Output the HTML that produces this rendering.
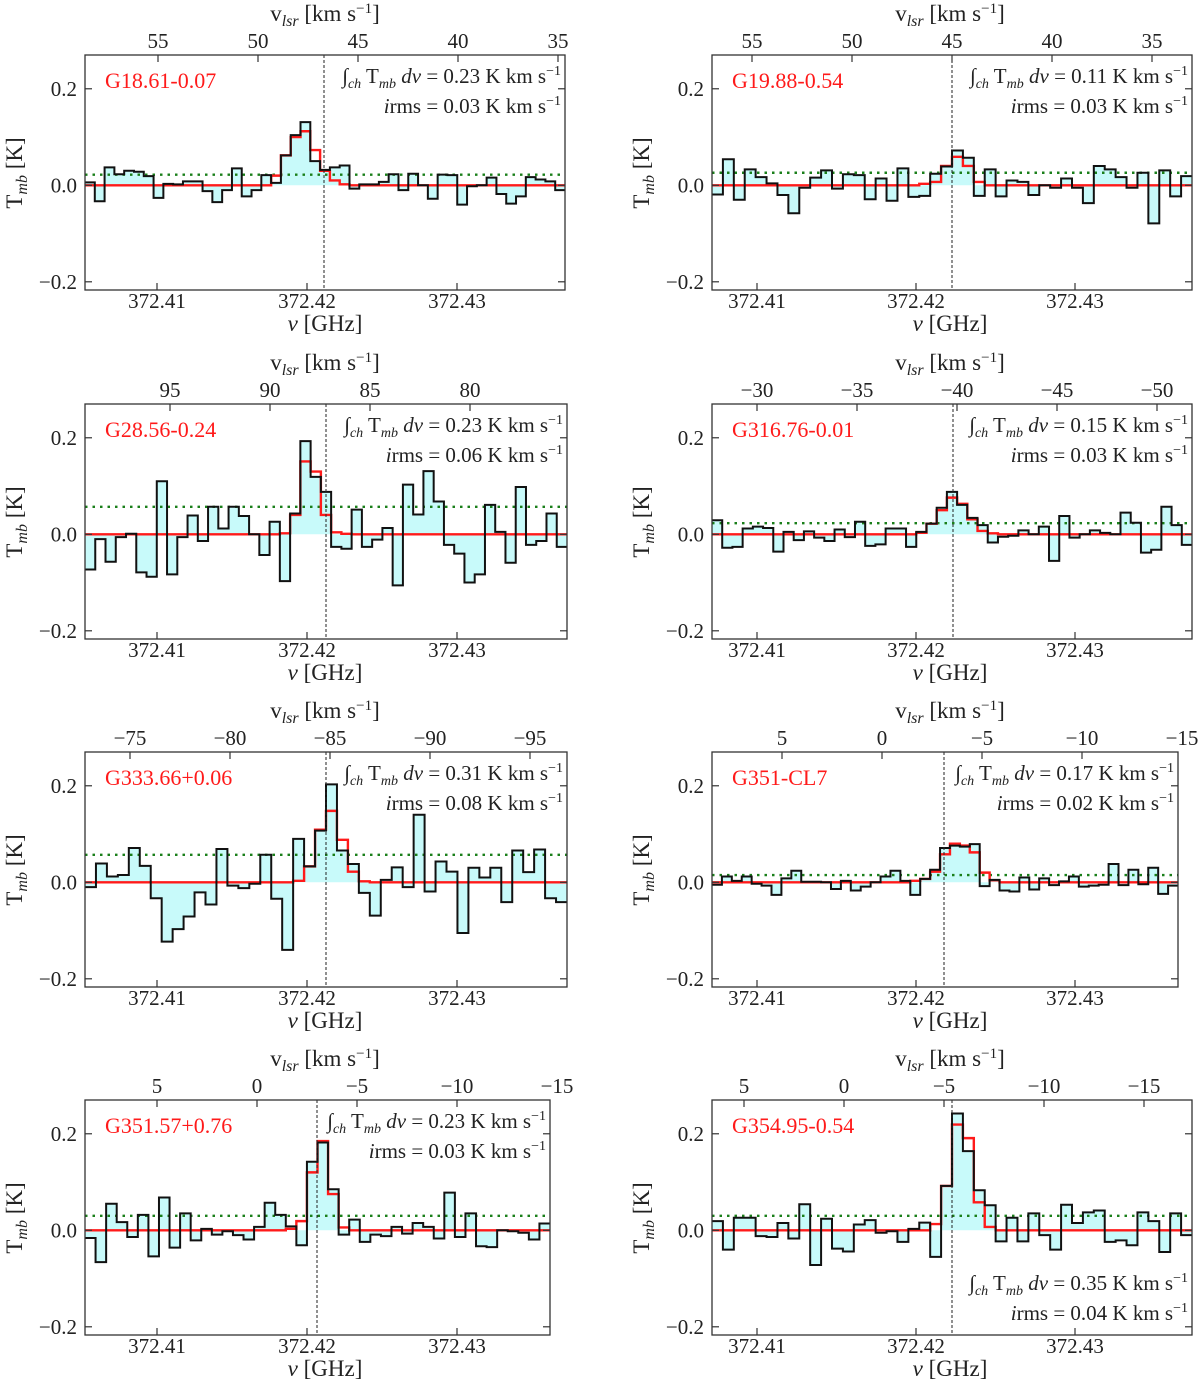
<!DOCTYPE html>
<html><head><meta charset="utf-8"><title>Spectra</title>
<style>
html,body{margin:0;padding:0;background:#fff;}
svg text{font-family:"Liberation Serif","DejaVu Serif",serif;fill:#222;}
</style></head>
<body>
<svg id="fig" width="1200" height="1388" viewBox="0 0 1200 1388" xmlns="http://www.w3.org/2000/svg" font-family="Liberation Serif, serif">
</svg>
<script>
// ---------- data ----------
const yTicks = [-0.2, 0.0, 0.2];
const yTickLabels = ["\u22120.2", "0.0", "0.2"];
const freqTicks = [372.41, 372.42, 372.43];
const freqTickLabels = ["372.41", "372.42", "372.43"];

const p1Obs = [0.006,-0.033,0.037,0.023,0.03,0.028,0.019,-0.026,0.003,0.002,0.008,0.008,-0.012,-0.035,-0.01,0.035,-0.023,-0.01,0.021,0.005,0.062,0.104,0.131,0.05,0.032,0.037,0.041,-0.007,0.002,0.002,0.007,0.023,-0.01,0.024,0,-0.028,0.022,0.021,-0.04,-0.002,0,0.016,-0.018,-0.038,-0.023,0.017,0.012,0.008,-0.01];
const p1Fit = [0.02,0.062,0.1,0.112,0.073,0.03,0.01,0.002];
const p1FitStart = 19;
const p1Rms = 0.022;
const p1VelTicks = [55,50,45,40,35];

const p2Obs = [-0.019,0.054,-0.03,0.033,0.017,0.004,-0.02,-0.058,-0.005,0.016,0.031,-0.007,0.023,0.021,-0.029,0.014,-0.032,0.035,-0.024,-0.022,0.024,0.039,0.072,0.057,-0.022,0.033,-0.023,0.01,0.007,-0.02,0,-0.005,0.014,-0.005,-0.037,0.04,0.033,0.017,-0.005,0.026,-0.079,0.031,-0.023,0.019];
const p2Fit = [0.003,0.007,0.04,0.059,0.04,0.007];
const p2FitStart = 19;
const p2Rms = 0.026;
const p2VelTicks = [55,50,45,40,35];

const p3Obs = [-0.073,-0.01,-0.057,-0.006,0.001,-0.079,-0.088,0.11,-0.083,-0.006,0.039,-0.014,0.057,0.012,0.057,0.038,0,-0.043,0.026,-0.097,0.043,0.193,0.119,0.088,-0.026,-0.03,0.051,-0.026,-0.011,0.013,-0.106,0.103,0.041,0.131,0.068,-0.022,-0.04,-0.1,-0.083,0.061,0.005,-0.059,0.098,-0.022,-0.014,0.043,-0.026];
const p3Fit = [0.002,0.04,0.151,0.13,0.04,0.004,0.001];
const p3FitStart = 19;
const p3Rms = 0.057;
const p3VelTicks = [95,90,85,80];

const p4Obs = [0.029,-0.028,-0.026,0.012,0.016,0.013,-0.036,0.005,-0.012,0.006,-0.007,-0.014,0.01,-0.006,0.026,-0.024,-0.021,0.012,0.012,-0.026,0.005,0.022,0.055,0.088,0.061,0.034,0.019,-0.017,-0.005,-0.003,0.008,0,0.016,-0.055,0.038,-0.007,0,0.008,0.003,0,0.045,0.024,-0.038,-0.032,0.057,0.019,-0.022];
const p4Fit = [0.003,0.022,0.05,0.076,0.063,0.031,0.007,0.002];
const p4FitStart = 20;
const p4Rms = 0.023;
const p4VelTicks = [-30,-35,-40,-45,-50];

const p5Obs = [-0.01,0.039,0.012,0.015,0.071,0.034,-0.033,-0.123,-0.097,-0.071,-0.021,-0.046,0.069,-0.007,-0.012,-0.003,0.057,-0.034,-0.14,0.09,0.033,0.107,0.203,0.066,0.038,-0.022,-0.069,0.005,0.031,-0.01,0.14,-0.019,0.043,0.022,-0.105,0.03,0.01,0.03,-0.041,0.066,0.021,0.068,-0.033,-0.041];
const p5Fit = [0.003,0.033,0.109,0.148,0.088,0.022,0.002];
const p5FitStart = 19;
const p5Rms = 0.057;
const p5VelTicks = [-75,-80,-85,-90,-95];

const p6Obs = [-0.005,0.012,0.003,0.012,-0.003,-0.007,-0.026,0.008,0.024,0.001,0.001,0,-0.014,0.003,-0.017,-0.009,0,0.012,0.024,0.003,-0.026,0.007,0.026,0.071,0.076,0.074,0.079,-0.008,0.005,-0.017,-0.019,0.01,-0.015,0.008,-0.006,0.002,0.012,-0.009,-0.007,-0.005,0.038,-0.006,0.026,-0.004,0.03,-0.024,-0.007];
const p6Fit = [0.003,0.007,0.022,0.058,0.08,0.076,0.062,0.02,0.004];
const p6FitStart = 20;
const p6Rms = 0.015;
const p6VelTicks = [5,0,-5,-10,-15];

const p7Obs = [-0.016,-0.066,0.055,0.017,-0.014,0.032,-0.054,0.068,-0.036,0.035,-0.021,0.003,-0.009,-0.002,-0.01,-0.019,0.007,0.057,0.032,0.008,-0.031,0.142,0.182,0.085,-0.009,0.022,-0.024,-0.009,-0.012,0.007,-0.007,0.015,0.007,-0.017,0.078,-0.014,0.035,-0.033,-0.035,0,-0.002,-0.005,-0.019,0.014];
const p7Fit = [0.003,0.019,0.12,0.185,0.075,0.006];
const p7FitStart = 19;
const p7Rms = 0.03;
const p7VelTicks = [5,0,-5,-10,-15];

const p8Obs = [0.019,-0.04,0.026,0.026,-0.012,-0.014,0.015,-0.017,0.054,-0.072,0.024,-0.038,-0.044,0.012,0.021,-0.005,-0.002,-0.024,0.003,0.016,-0.055,0.092,0.242,0.164,0.083,0.052,-0.023,0.026,-0.023,0.035,-0.01,-0.04,0.053,0.015,0.037,0.041,-0.024,-0.021,-0.031,0.037,0.019,-0.045,0.035,-0.01];
const p8Fit = [0.013,0.092,0.219,0.191,0.058,0.007];
const p8FitStart = 20;
const p8Rms = 0.03;
const p8VelTicks = [5,0,-5,-10,-15];

// ---------- layout (not data) ----------
const panels = [
 {name:"G18.61-0.07",integ:"0.23",irms:"0.03",obs:p1Obs,fit:p1Fit,fs:p1FitStart,rms:p1Rms,vt:p1VelTicks,x0:85,x1:565,top:55,col:0,vRef:45,xRef:358,vline:324,ann:"top"},
 {name:"G19.88-0.54",integ:"0.11",irms:"0.03",obs:p2Obs,fit:p2Fit,fs:p2FitStart,rms:p2Rms,vt:p2VelTicks,x0:712,x1:1192,top:55,col:1,vRef:45,xRef:952,vline:952,ann:"top"},
 {name:"G28.56-0.24",integ:"0.23",irms:"0.06",obs:p3Obs,fit:p3Fit,fs:p3FitStart,rms:p3Rms,vt:p3VelTicks,x0:85,x1:567,top:404,col:0,vRef:85,xRef:370,vline:326,ann:"top"},
 {name:"G316.76-0.01",integ:"0.15",irms:"0.03",obs:p4Obs,fit:p4Fit,fs:p4FitStart,rms:p4Rms,vt:p4VelTicks,x0:712,x1:1192,top:404,col:1,vRef:-40,xRef:957,vline:953,ann:"top"},
 {name:"G333.66+0.06",integ:"0.31",irms:"0.08",obs:p5Obs,fit:p5Fit,fs:p5FitStart,rms:p5Rms,vt:p5VelTicks,x0:85,x1:567,top:752,col:0,vRef:-85,xRef:330,vline:326,ann:"top"},
 {name:"G351-CL7",integ:"0.17",irms:"0.02",obs:p6Obs,fit:p6Fit,fs:p6FitStart,rms:p6Rms,vt:p6VelTicks,x0:712,x1:1178,top:752,col:1,vRef:0,xRef:882,vline:944,ann:"top"},
 {name:"G351.57+0.76",integ:"0.23",irms:"0.03",obs:p7Obs,fit:p7Fit,fs:p7FitStart,rms:p7Rms,vt:p7VelTicks,x0:85,x1:550,top:1100,col:0,vRef:0,xRef:257,vline:317,ann:"top"},
 {name:"G354.95-0.54",integ:"0.35",irms:"0.04",obs:p8Obs,fit:p8Fit,fs:p8FitStart,rms:p8Rms,vt:p8VelTicks,x0:712,x1:1192,top:1100,col:1,vRef:0,xRef:844,vline:952,ann:"bottom"}
];
const H = 235, Y_MAX = 0.27, Y_MIN = -0.217;
const NS = "http://www.w3.org/2000/svg";
const svg = document.getElementById('fig');
const FF = '"Liberation Serif", "DejaVu Serif", serif';

function mk(tag, attrs, parent){
  const e = document.createElementNS(NS, tag);
  for (const k in attrs) e.setAttribute(k, attrs[k]);
  (parent||svg).appendChild(e);
  return e;
}
function txt(parent, x, y, s, size, anchor){
  const t = mk('text', {x:x, y:y, 'font-size':size, 'text-anchor':anchor||'middle', 'font-family':FF}, parent);
  t.textContent = s;
  return t;
}

panels.forEach(p => {
  const g = mk('g', {});
  
  
  const top = p.top, bot = top + H;
  const yS = v => top + (Y_MAX - v) / (Y_MAX - Y_MIN) * H;
  const fx0 = p.col === 0 ? 157 : 757, fpx = p.col === 0 ? 15000 : 15900;
  const fS = f => fx0 + (f - 372.41) * fpx;
  const vS = v => p.xRef + (p.vRef - v) * 20;
  const n = p.obs.length, w = (p.x1 - p.x0) / n;
  const bx = i => p.x0 + i * w;

  let d = 'M' + p.x0 + ',' + yS(0);
  p.obs.forEach((v, i) => { d += ' L' + bx(i) + ',' + yS(v) + ' L' + bx(i+1) + ',' + yS(v); });
  d += ' L' + p.x1 + ',' + yS(0) + ' Z';
  const fill = mk('path', {d:d, fill:'#c8fafa', stroke:'none'}, g);
  
  

  const rl = mk('line', {x1:p.x0, x2:p.x1, y1:yS(p.rms), y2:yS(p.rms), stroke:'#1a7f1a', 'stroke-width':2.4, 'stroke-dasharray':'2.5 5'}, g);
  
  

  const fitVal = i => (i >= p.fs && i < p.fs + p.fit.length) ? p.fit[i - p.fs] : 0;
  let fd = 'M' + p.x0 + ',' + yS(fitVal(0));
  for (let i = 0; i < n; i++) { fd += ' H' + bx(i+1); if (i+1 < n) fd += ' V' + yS(fitVal(i+1)); }
  const fl = mk('path', {d:fd, fill:'none', stroke:'#ff1a1a', 'stroke-width':2.4}, g);
  
  

  let od = 'M' + p.x0 + ',' + yS(p.obs[0]);
  for (let i = 0; i < n; i++) { od += ' H' + bx(i+1); if (i+1 < n) od += ' V' + yS(p.obs[i+1]); }
  const ol = mk('path', {d:od, fill:'none', stroke:'#111', 'stroke-width':2}, g);
  
  

  const vl = mk('line', {x1:p.vline, x2:p.vline, y1:top, y2:bot, stroke:'#222', 'stroke-width':1, 'stroke-dasharray':'3 2'}, g);
  
  

  const fr = mk('rect', {x:p.x0, y:top, width:p.x1 - p.x0, height:H, fill:'none', stroke:'#333', 'stroke-width':1.3}, g);
  
  

  yTicks.forEach((t, i) => {
    const y = yS(t);
    mk('line', {x1:p.x0, x2:p.x0 + 7, y1:y, y2:y, stroke:'#333', 'stroke-width':1.2}, g);
    mk('line', {x1:p.x1, x2:p.x1 - 7, y1:y, y2:y, stroke:'#333', 'stroke-width':1.2}, g);
    const tl = txt(g, p.x0 - 8, y + 7, yTickLabels[i], 21, 'end');
    
    
  });
  freqTicks.forEach((f, i) => {
    const x = fS(f);
    mk('line', {x1:x, x2:x, y1:bot, y2:bot - 7, stroke:'#333', 'stroke-width':1.2}, g);
    const tl = txt(g, x, bot + 18, freqTickLabels[i], 21);
    
    
  });
  p.vt.forEach(v => {
    const x = vS(v);
    if (x < p.x0 - 1 || x > p.x1 + 20) return;
    if (x <= p.x1) mk('line', {x1:x, x2:x, y1:top, y2:top + 7, stroke:'#333', 'stroke-width':1.2}, g);
    const tl = txt(g, x, top - 7, v < 0 ? '\u2212' + Math.abs(v) : String(v), 21);
    
    
  });

  const cx = p.col === 0 ? 325 : 950;
  const vt = mk('text', {x:cx, y:top - 34, 'font-size':23, 'text-anchor':'middle', 'font-family':FF}, g);
  
  
  vt.innerHTML = 'v<tspan font-size="16" font-style="italic" dy="5">lsr</tspan><tspan dy="-5"> [km s</tspan><tspan font-size="15" dy="-8">\u22121</tspan><tspan dy="8">]</tspan>';
  const ft = mk('text', {x:cx, y:bot + 41, 'font-size':23, 'text-anchor':'middle', 'font-family':FF}, g);
  
  
  ft.innerHTML = '<tspan font-style="italic">\u03bd</tspan> [GHz]';
  const yx = p.col === 0 ? 22 : 649, yy = top + 118;
  const yt = mk('text', {x:yx, y:yy, 'font-size':23, 'text-anchor':'middle', 'font-family':FF, transform:'rotate(-90 ' + yx + ' ' + yy + ')'}, g);
  
  
  yt.innerHTML = 'T<tspan font-size="16" font-style="italic" dy="5">mb</tspan><tspan dy="-5"> [K]</tspan>';

  const nm = txt(g, p.x0 + 20, top + 33, p.name, 22, 'start');
  nm.setAttribute('fill', '#ff1a1a');
  nm.style.fill = '#ff1a1a';
  
  

  const ay1 = p.ann === 'top' ? top + 28 : bot - 45;
  const ay2 = ay1 + 30;
  const ax = p.x1 - 4;
  const a1 = mk('text', {x:ax, y:ay1, 'font-size':21, 'text-anchor':'end', 'font-family':FF}, g);
  
  
  a1.innerHTML = '\u222B<tspan font-size="14" font-style="italic" dy="5">ch</tspan><tspan dy="-5"> T</tspan><tspan font-size="14" font-style="italic" dy="5">mb</tspan><tspan dy="-5" font-style="italic"> dv</tspan><tspan> = ' + p.integ + ' K km s</tspan><tspan font-size="14" dy="-8">\u22121</tspan>';
  const a2 = mk('text', {x:ax, y:ay2, 'font-size':21, 'text-anchor':'end', 'font-family':FF}, g);
  
  
  a2.innerHTML = '<tspan font-style="italic">i</tspan>rms = ' + p.irms + ' K km s<tspan font-size="14" dy="-8">\u22121</tspan>';
});
</script>
</body></html>
